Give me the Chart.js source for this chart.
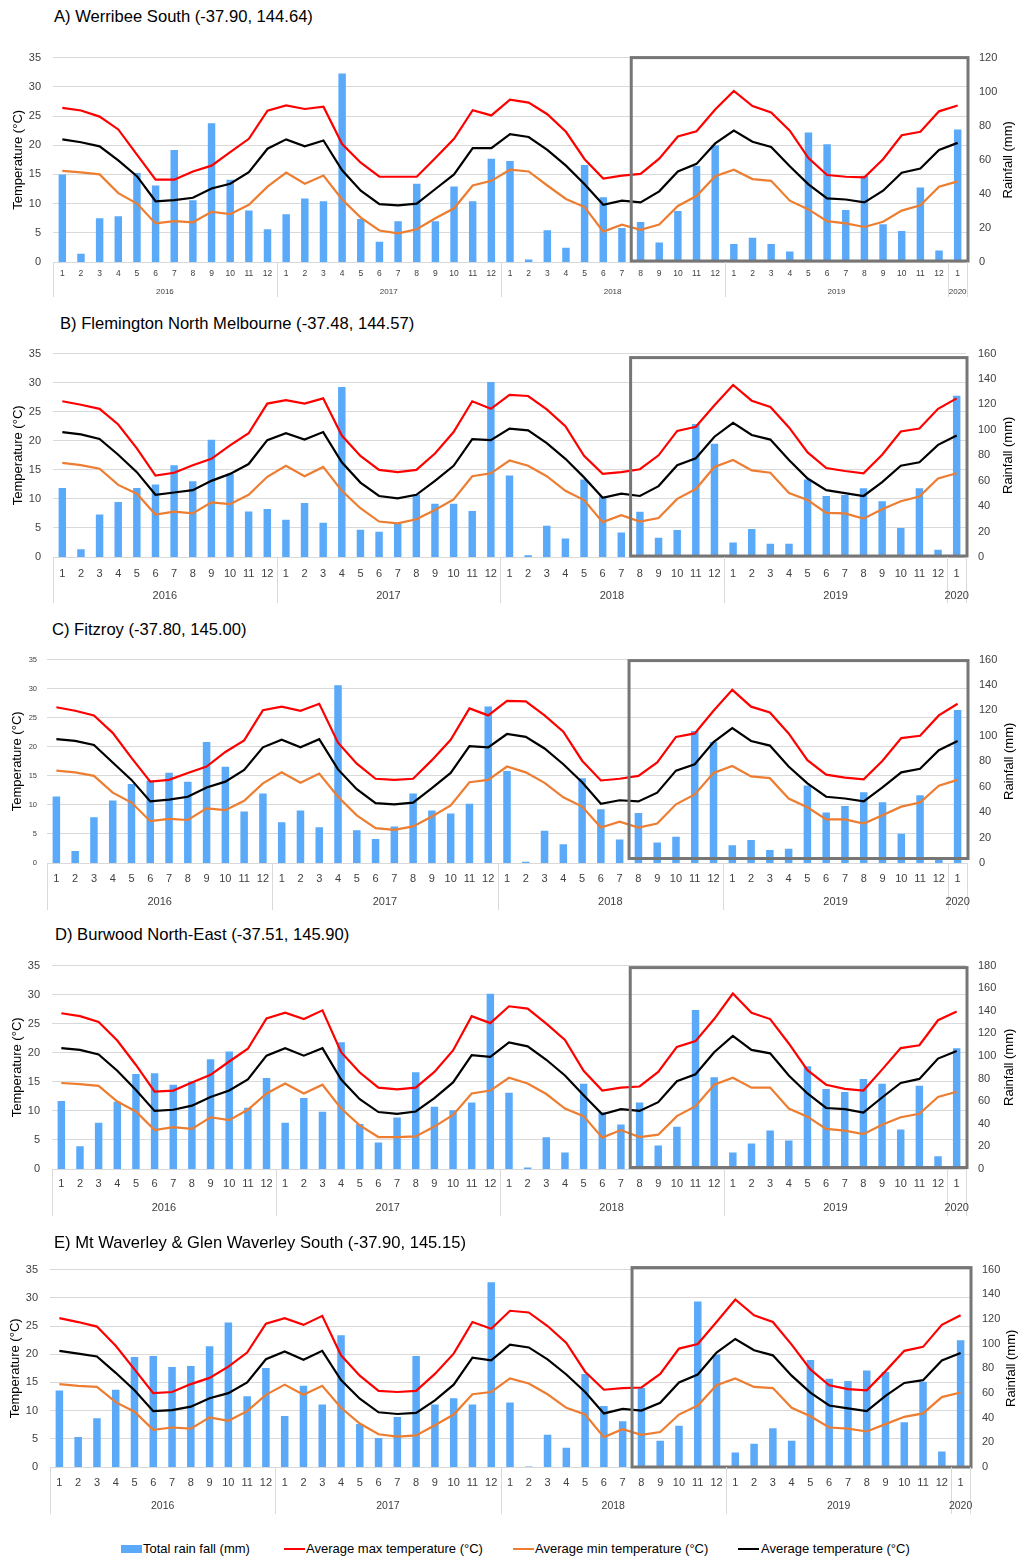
<!DOCTYPE html>
<html><head><meta charset="utf-8">
<script src="https://cdn.jsdelivr.net/npm/chart.js@4.4.1/dist/chart.umd.min.js"></script>
<style>
html,body{margin:0;padding:0;background:#fff;}
#page{position:relative;width:1018px;height:1558px;font-family:"Liberation Sans",Arial,sans-serif;overflow:hidden;}
.title{position:absolute;font-size:16.6px;line-height:20px;color:#000;white-space:nowrap;}
.panel{position:absolute;left:0;width:1018px;}
.lg{position:absolute;font-size:13px;line-height:16px;color:#000;white-space:nowrap;}
.lgm{position:absolute;}
</style></head><body>
<div id="page"></div>
<script>
// ---------- DATA ----------
const categories = ['2016-1','2016-2','2016-3','2016-4','2016-5','2016-6','2016-7','2016-8','2016-9','2016-10','2016-11','2016-12',
 '2017-1','2017-2','2017-3','2017-4','2017-5','2017-6','2017-7','2017-8','2017-9','2017-10','2017-11','2017-12',
 '2018-1','2018-2','2018-3','2018-4','2018-5','2018-6','2018-7','2018-8','2018-9','2018-10','2018-11','2018-12',
 '2019-1','2019-2','2019-3','2019-4','2019-5','2019-6','2019-7','2019-8','2019-9','2019-10','2019-11','2019-12',
 '2020-1'];
const monthLabels = ['1','2','3','4','5','6','7','8','9','10','11','12',
 '1','2','3','4','5','6','7','8','9','10','11','12',
 '1','2','3','4','5','6','7','8','9','10','11','12',
 '1','2','3','4','5','6','7','8','9','10','11','12',
 '1'];
const yearLabels = ['2016','2017','2018','2019','2020'];
const yearSpans = [12,12,12,12,1];
const highlightFrom = '2018-8';

const seriesNames = ['Total rain fall (mm)','Average max temperature (°C)','Average min temperature (°C)','Average temperature (°C)'];

// A) Werribee South
const rainA = [51.3,4.9,25.7,26.9,52.2,44.9,65.7,36.2,81.4,48.3,30.3,19.3, 28.0,37.3,35.6,110.7,25.2,11.9,23.9,46.0,23.9,44.3,35.6,60.6, 59.3,1.5,18.7,8.3,57.0,38.0,19.9,23.5,11.4,29.9,56.4,68.5, 10.6,14.2,10.6,6.1,76.1,69.1,30.5,50.7,22.1,18.2,43.7,6.8, 77.8];
const maxA = [26.4,25.95,24.9,22.7,18.4,14.1,14.1,15.5,16.5,18.8,21.1,25.9, 26.8,26.2,26.6,20.2,17.0,14.6,14.6,14.6,17.8,21.1,26.0,25.1, 27.8,27.3,25.3,22.3,17.6,14.3,14.8,15.1,17.7,21.5,22.4,26.1, 29.3,26.7,25.6,22.5,17.8,14.9,14.6,14.5,17.6,21.7,22.3,25.8, 26.8];
const avgA = [21.0,20.5,19.8,17.4,14.7,10.4,10.6,11.0,12.6,13.4,15.4,19.4, 21.0,19.8,20.8,15.7,12.2,9.9,9.7,10.0,12.5,15.0,19.5,19.5, 21.9,21.4,19.2,16.5,13.3,9.8,10.5,10.2,12.1,15.5,16.8,20.3, 22.5,20.6,19.7,16.4,13.3,10.9,10.7,10.2,12.2,15.3,16.0,19.2, 20.4];
const minA = [15.6,15.35,15.0,11.8,10.0,6.6,7.0,6.8,8.6,8.2,9.8,12.9, 15.3,13.4,14.8,10.7,7.6,5.4,4.9,5.6,7.5,9.2,13.1,13.9, 15.8,15.5,13.1,10.8,9.4,5.2,6.4,5.5,6.4,9.6,11.3,14.7, 15.8,14.2,13.9,10.5,9.0,7.0,6.6,6.0,6.9,8.8,9.7,12.9, 13.8];

// B) Flemington North Melbourne
const rainB = [54.3,6.1,33.4,43.3,54.3,57.1,72.1,59.6,92.2,65.2,35.7,37.7, 29.3,42.5,27.0,133.8,21.4,19.9,26.2,49.2,41.8,41.8,36.2,137.6, 64.2,1.3,24.6,14.5,60.9,47.5,19.3,35.5,15.2,21.3,104.6,89.1, 11.4,22.1,10.4,10.4,60.9,48.0,48.7,54.1,43.9,22.8,54.1,5.8, 126.9];
const maxB = [26.8,26.2,25.5,22.8,18.7,14.0,14.5,15.8,16.9,19.2,21.3,26.4, 27.0,26.4,27.3,20.9,17.4,15.0,14.6,15.0,17.8,21.5,26.8,25.5, 27.9,27.7,25.4,22.5,17.4,14.3,14.6,15.1,17.5,21.7,22.4,26.1, 29.6,26.9,25.8,22.3,18.0,15.3,14.8,14.4,17.6,21.6,22.1,25.5, 27.3];
const avgB = [21.5,21.1,20.3,17.6,14.6,10.7,11.1,11.5,13.1,14.3,16.0,20.1, 21.3,20.2,21.5,16.3,12.8,10.5,10.1,10.7,13.1,15.7,20.3,20.1, 22.1,21.8,19.6,16.9,13.7,10.2,10.9,10.5,12.2,15.8,17.0,20.7, 23.1,21.0,20.2,16.7,13.5,11.5,11.0,10.5,12.9,15.7,16.3,19.3, 20.9];
const minB = [16.2,15.8,15.2,12.4,10.9,7.3,7.8,7.5,9.4,9.1,10.7,13.8, 15.7,13.9,15.5,11.4,8.4,6.1,5.8,6.5,8.1,9.9,13.9,14.4, 16.6,15.7,13.9,11.4,9.8,6.0,7.2,6.1,6.7,10.0,11.7,15.5, 16.7,14.9,14.5,11.0,9.8,7.6,7.5,6.6,8.2,9.6,10.4,13.5, 14.4];

// C) Fitzroy
const rainC = [52.3,9.4,36.0,49.2,62.2,64.8,70.9,64.0,95.2,75.8,40.6,54.6, 32.1,41.3,28.1,139.8,25.8,18.9,28.8,54.6,41.3,39.0,46.7,123.2, 72.4,1.0,25.3,14.8,66.6,42.3,18.4,39.3,16.1,20.7,103.8,95.2, 14.0,18.1,10.2,11.2,61.0,39.8,44.9,55.6,47.7,23.0,53.3,4.8, 120.4];
const maxC = [26.8,26.2,25.4,22.4,18.1,14.0,14.3,15.5,16.6,19.1,21.1,26.3, 26.9,26.2,27.4,20.7,17.1,14.5,14.3,14.5,17.7,21.2,26.6,25.4, 27.9,27.8,25.4,22.6,17.6,14.2,14.5,15.0,17.3,21.7,22.3,26.2, 29.8,26.9,25.9,22.3,17.7,15.2,14.7,14.4,17.6,21.5,21.9,25.4, 27.4];
const avgC = [21.3,21.0,20.3,17.3,14.3,10.6,10.9,11.4,13.0,14.0,16.0,19.9, 21.2,19.9,21.3,16.1,12.7,10.3,10.1,10.4,12.9,15.5,20.1,19.9, 22.2,21.7,19.7,17.0,13.9,10.2,10.8,10.6,12.1,15.9,17.0,20.8, 23.2,21.0,20.2,16.6,13.7,11.4,11.1,10.6,13.0,15.6,16.2,19.4, 21.0];
const minC = [15.9,15.6,15.0,12.1,10.4,7.2,7.6,7.4,9.4,9.1,10.7,13.7, 15.6,13.8,15.4,11.4,8.2,6.0,5.7,6.3,8.0,9.9,13.9,14.3, 16.6,15.6,13.8,11.3,9.7,6.1,7.1,6.1,6.8,10.1,11.8,15.5, 16.7,14.9,14.6,11.1,9.6,7.5,7.5,6.8,8.2,9.7,10.4,13.3, 14.3];

// D) Burwood North-East
const rainD = [60.2,20.1,41.0,59.6,84.0,84.8,74.5,77.7,97.2,104.0,54.2,80.5, 41.0,62.8,50.7,112.1,39.8,23.5,45.6,85.7,55.0,51.9,58.8,155.1, 67.4,1.4,28.1,14.6,75.4,50.2,39.3,58.8,20.9,37.5,140.7,81.1, 14.6,22.6,34.1,25.2,90.9,70.8,68.2,79.7,75.4,35.0,73.7,11.2, 106.9];
const maxD = [26.8,26.3,25.3,22.1,17.9,13.3,13.5,14.9,16.2,18.5,20.7,25.9, 26.9,25.8,27.3,20.1,16.6,14.0,13.7,14.0,16.7,20.4,26.3,25.1, 28.0,27.6,25.0,22.2,16.9,13.5,14.0,14.2,16.7,21.0,22.0,25.8, 30.2,26.9,25.8,21.6,17.0,14.5,13.8,13.5,17.1,20.8,21.3,25.6, 27.1];
const avgD = [20.8,20.5,19.7,16.9,13.6,10.0,10.2,10.9,12.4,13.5,15.4,19.5, 20.8,19.5,20.8,15.4,12.0,9.8,9.5,9.9,12.2,14.9,19.6,19.3, 21.8,21.1,18.8,16.1,12.7,9.4,10.3,10.0,11.5,15.1,16.3,20.1, 22.9,20.5,19.9,16.1,13.0,10.5,10.3,9.7,12.3,14.8,15.5,19.0, 20.3];
const minD = [14.8,14.6,14.3,11.6,9.9,6.7,7.2,6.9,8.9,8.4,10.2,13.0, 14.7,13.0,14.5,10.4,7.5,5.5,5.5,5.6,7.3,9.3,13.0,13.5, 15.7,14.7,12.9,10.4,9.1,5.4,6.7,5.5,5.9,9.1,10.8,14.5, 15.7,14.0,14.0,10.4,9.0,6.9,6.6,6.0,7.6,8.9,9.5,12.4, 13.3];

// E) Mt Waverley & Glen Waverley South
const rainE = [62.0,24.3,39.5,62.7,89.2,89.9,81.0,81.8,97.8,117.1,57.3,80.3, 41.3,65.9,50.7,106.7,34.8,23.5,40.5,89.9,50.7,55.7,50.7,149.8, 52.3,0.5,26.1,15.7,75.3,49.4,37.1,64.1,21.2,33.5,134.1,91.2, 11.8,18.8,31.4,21.2,86.8,71.6,69.8,78.2,76.9,36.3,69.0,12.5, 102.7];
const maxE = [26.4,25.7,24.9,21.5,17.3,13.1,13.3,14.7,15.8,17.8,20.3,25.4, 26.4,25.2,26.8,19.8,16.2,13.5,13.3,13.5,16.5,20.1,25.7,24.5, 27.7,27.4,25.0,22.0,16.9,13.7,14.0,14.1,16.5,21.0,21.8,25.7, 29.7,26.9,25.7,21.7,17.3,14.5,13.8,13.6,17.0,20.6,21.3,25.2, 26.9];
const avgE = [20.6,20.1,19.6,16.7,13.6,9.9,10.1,10.7,12.2,13.1,15.0,19.1, 20.5,19.0,20.6,15.4,12.1,9.7,9.4,9.6,11.8,14.6,19.4,18.9, 21.7,21.2,19.1,16.4,13.3,9.5,10.3,10.0,11.4,15.0,16.4,20.3, 22.7,20.7,19.8,16.2,13.2,10.9,10.4,9.9,12.6,14.9,15.4,18.9, 20.2];
const minE = [14.7,14.4,14.2,11.5,9.8,6.6,7.0,6.8,8.8,8.2,9.9,12.8, 14.6,12.8,14.4,10.5,7.7,5.8,5.4,5.6,7.4,9.3,12.9,13.3, 15.7,14.8,12.9,10.5,9.3,5.3,6.7,5.7,6.2,9.3,10.9,14.5, 15.7,14.2,14.0,10.5,9.0,7.0,6.8,6.3,7.6,8.9,9.5,12.4, 13.2];

const panels = [
  {title:'A) Werribee South (-37.90, 144.64)', rain:rainA, tmax:maxA, tmin:minA, tavg:avgA, rainMax:120},
  {title:'B) Flemington North Melbourne (-37.48, 144.57)', rain:rainB, tmax:maxB, tmin:minB, tavg:avgB, rainMax:160},
  {title:'C) Fitzroy (-37.80, 145.00)', rain:rainC, tmax:maxC, tmin:minC, tavg:avgC, rainMax:160},
  {title:'D) Burwood North-East (-37.51, 145.90)', rain:rainD, tmax:maxD, tmin:minD, tavg:avgD, rainMax:180},
  {title:'E) Mt Waverley & Glen Waverley South (-37.90, 145.15)', rain:rainE, tmax:maxE, tmin:minE, tavg:avgE, rainMax:160}
];

// ---------- LAYOUT / STYLE ----------
const layouts = [
  {titleX:54, titleY:17, top:51, bottom:262, left:53, right:967, yFont:11, yPad:12, monthFont:8.5, monthOff:12, yearFont:8, yearOff:30, sepLen:35, lTitleX:18, rTitleX:1008, boxTop:0, boxBottom:1},
  {titleX:60, titleY:324, top:347, bottom:557, left:53, right:966, yFont:11, yPad:12, monthFont:11, monthOff:17, yearFont:11, yearOff:39, sepLen:46, lTitleX:18, rTitleX:1008, boxTop:4, boxBottom:1},
  {titleX:52, titleY:630, top:653, bottom:863, left:47, right:967, yFont:7.5, yPad:10, monthFont:11, monthOff:16, yearFont:11, yearOff:39, sepLen:47, lTitleX:17, rTitleX:1009, boxTop:1, boxBottom:4.5},
  {titleX:55, titleY:935, top:959, bottom:1169, left:52, right:966, yFont:11, yPad:12, monthFont:11, monthOff:15, yearFont:11, yearOff:39, sepLen:47, lTitleX:17, rTitleX:1009, boxTop:2, boxBottom:1.5},
  {titleX:54, titleY:1243, top:1263, bottom:1467, left:50, right:970, yFont:11, yPad:12, monthFont:11, monthOff:16, yearFont:10.5, yearOff:39, sepLen:47, lTitleX:15, rTitleX:1011, boxTop:-2, boxBottom:0}
];
const FONT = '"Liberation Sans", Arial, sans-serif';
const COLORS = {rain:'#5AAAF9', tmax:'#FF0000', tmin:'#ED7D31', tavg:'#000000', grid:'#D9D9D9', tick:'#404040', box:'#767676'};
Chart.defaults.font.family = FONT;

const page = document.getElementById('page');

function makePanel(p, L) {
  const padTop = 12, xh = 52;
  const wrap = document.createElement('div');
  wrap.className = 'panel';
  wrap.style.top = (L.top - padTop) + 'px';
  wrap.style.height = (L.bottom - L.top + padTop + xh) + 'px';
  const cv = document.createElement('canvas');
  wrap.appendChild(cv);
  page.appendChild(wrap);

  const t = document.createElement('div');
  t.className = 'title';
  t.textContent = p.title;
  t.style.left = L.titleX + 'px';
  t.style.top = (L.titleY - 10) + 'px';
  page.appendChild(t);

  const decor = {
    id: 'decor',
    afterDatasetsDraw(chart) {
      const xs = chart.scales.x, ca = chart.chartArea, ctx = chart.ctx;
      const i0 = categories.indexOf(highlightFrom);
      const x1 = (xs.getPixelForValue(i0 - 1) + xs.getPixelForValue(i0)) / 2;
      const x2 = ca.right + 1;
      ctx.save();
      ctx.strokeStyle = COLORS.box;
      ctx.lineWidth = 3;
      ctx.strokeRect(x1, ca.top + L.boxTop, x2 - x1, (ca.bottom - L.boxBottom) - (ca.top + L.boxTop));
      ctx.restore();
    },
    afterDraw(chart) {
      const xs = chart.scales.x, ca = chart.chartArea, ctx = chart.ctx;
      const n = categories.length;
      const edge = i => i <= 0 ? ca.left : (i >= n ? ca.right : (xs.getPixelForValue(i - 1) + xs.getPixelForValue(i)) / 2);
      const bounds = [0];
      let s = 0;
      yearSpans.forEach(v => { s += v; bounds.push(s); });
      ctx.save();
      ctx.strokeStyle = COLORS.grid;
      ctx.lineWidth = 1;
      bounds.forEach(b => {
        const x = Math.round(edge(b)) + 0.5;
        ctx.beginPath();
        ctx.moveTo(x, ca.bottom);
        ctx.lineTo(x, ca.bottom + L.sepLen);
        ctx.stroke();
      });
      ctx.fillStyle = COLORS.tick;
      ctx.font = L.yearFont + 'px ' + FONT;
      ctx.textAlign = 'center';
      ctx.textBaseline = 'middle';
      yearLabels.forEach((y, k) => {
        const x = (edge(bounds[k]) + edge(bounds[k + 1])) / 2;
        ctx.fillText(y, x, ca.bottom + L.yearOff);
      });
      // axis titles
      ctx.fillStyle = '#000';
      ctx.font = '13px ' + FONT;
      const cy = (ca.top + ca.bottom) / 2;
      [['Temperature (°C)', L.lTitleX], ['Rainfall (mm)', L.rTitleX]].forEach(([txt, x]) => {
        ctx.save();
        ctx.translate(x, cy);
        ctx.rotate(-Math.PI / 2);
        ctx.fillText(txt, 0, 0);
        ctx.restore();
      });
      ctx.restore();
    }
  };

  const lineDs = (label, data, color) => ({
    type: 'line', label, data, borderColor: color, backgroundColor: color,
    borderWidth: 2.2, pointRadius: 0, tension: 0, yAxisID: 'y', order: 1, fill: false
  });

  new Chart(cv, {
    type: 'bar',
    data: {
      labels: categories,
      datasets: [
        lineDs(seriesNames[1], p.tmax, COLORS.tmax),
        lineDs(seriesNames[3], p.tavg, COLORS.tavg),
        lineDs(seriesNames[2], p.tmin, COLORS.tmin),
        {type: 'bar', label: seriesNames[0], data: p.rain, backgroundColor: COLORS.rain, yAxisID: 'y2', order: 2,
         barPercentage: 0.4, categoryPercentage: 1}
      ]
    },
    options: {
      responsive: true, maintainAspectRatio: false, animation: false,
      layout: {padding: {top: padTop, left: 0, right: 0, bottom: 0}},
      plugins: {legend: {display: false}, tooltip: {enabled: false}, title: {display: false}},
      scales: {
        x: {
          offset: true,
          grid: {display: false, drawTicks: false},
          border: {display: true, color: COLORS.grid, width: 1},
          ticks: {autoSkip: false, maxRotation: 0, minRotation: 0, padding: L.monthOff - L.monthFont * 0.6,
                  font: {size: L.monthFont}, color: COLORS.tick, callback: (v, i) => monthLabels[i]},
          afterFit: sc => { sc.height = xh; }
        },
        y: {
          position: 'left', min: 0, max: 35,
          ticks: {stepSize: 5, padding: L.yPad, font: {size: L.yFont}, color: COLORS.tick},
          grid: {color: COLORS.grid, drawTicks: false, lineWidth: 1},
          border: {display: false},
          afterFit: sc => { sc.width = L.left; }
        },
        y2: {
          position: 'right', min: 0, max: p.rainMax,
          ticks: {stepSize: 20, padding: 12, font: {size: 11}, color: COLORS.tick},
          grid: {display: false, drawTicks: false},
          border: {display: false},
          afterFit: sc => { sc.width = 1018 - L.right; }
        }
      }
    },
    plugins: [decor]
  });
}

panels.forEach((p, i) => makePanel(p, layouts[i]));

// ---------- LEGEND ----------
const legendItems = [
  {name: seriesNames[0], kind: 'rect', color: COLORS.rain, mx: 121, tx: 143},
  {name: seriesNames[1], kind: 'line', color: COLORS.tmax, mx: 284, tx: 306},
  {name: seriesNames[2], kind: 'line', color: COLORS.tmin, mx: 513, tx: 535},
  {name: seriesNames[3], kind: 'line', color: COLORS.tavg, mx: 738, tx: 761}
];
const LY = 1549;
legendItems.forEach(it => {
  const m = document.createElement('div');
  m.className = 'lgm';
  m.style.left = it.mx + 'px';
  m.style.width = '21px';
  m.style.background = it.color;
  if (it.kind === 'rect') { m.style.top = (LY - 4) + 'px'; m.style.height = '8px'; }
  else { m.style.top = (LY - 1) + 'px'; m.style.height = '2px'; }
  page.appendChild(m);
  const t = document.createElement('div');
  t.className = 'lg';
  t.textContent = it.name;
  t.style.left = it.tx + 'px';
  t.style.top = (LY - 8) + 'px';
  page.appendChild(t);
});
</script>
</body></html>
